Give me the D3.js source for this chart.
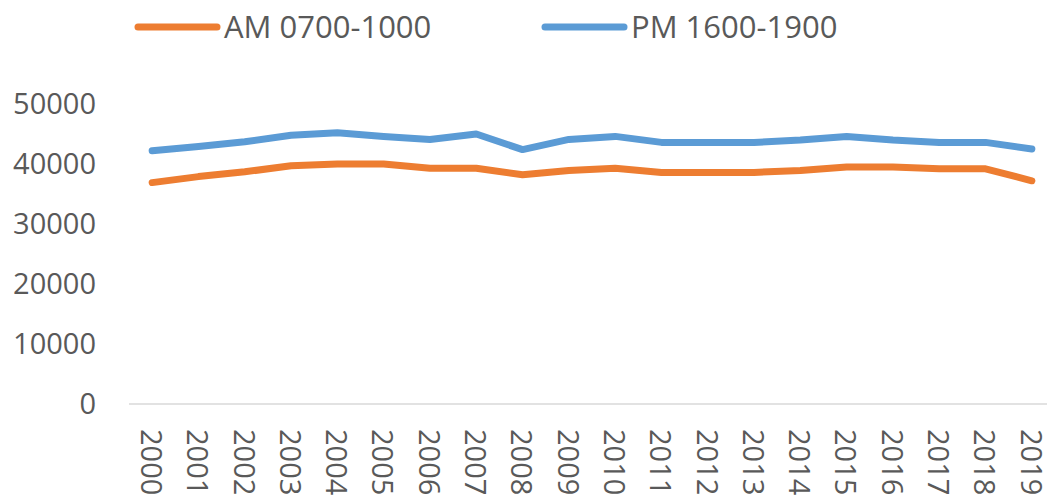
<!DOCTYPE html>
<html>
<head>
<meta charset="utf-8">
<script src="https://cdn.jsdelivr.net/npm/d3@7"></script>
<style>
  body { margin: 0; background: #fff; }
  text { font-family: "Open Sans", "Liberation Sans", Arial, sans-serif; fill: #595959; }
</style>
</head>
<body>
<div class="container"></div>
<script>
var years = ["2000","2001","2002","2003","2004","2005","2006","2007","2008","2009",
             "2010","2011","2012","2013","2014","2015","2016","2017","2018","2019"];
var amValues = [36900, 37900, 38700, 39700, 40000, 40000, 39300, 39300, 38200, 38900,
                39300, 38600, 38600, 38600, 38900, 39500, 39500, 39200, 39200, 37200];
var pmValues = [42200, 42900, 43700, 44800, 45200, 44600, 44100, 45000, 42400, 44100,
                44600, 43600, 43600, 43600, 44000, 44600, 44000, 43600, 43600, 42500];
var seriesNames = ["AM 0700-1000", "PM 1600-1900"];
var yTicks = [0, 10000, 20000, 30000, 40000, 50000];

var width = 1047, height = 495;
var margin = {top: 104, right: -8, bottom: 91, left: 129};

var svg = d3.select("div.container").append("svg")
    .attr("width", width)
    .attr("height", height);

var x = d3.scaleBand()
    .domain(years)
    .range([margin.left, width - margin.right]);

var y = d3.scaleLinear()
    .domain([0, 50000])
    .range([height - margin.bottom, margin.top]);

var colors = ["#ED7D31", "#5B9BD5"];

// y labels
svg.selectAll(".ylab")
    .data(yTicks)
    .enter().append("text")
    .attr("class", "ylab")
    .attr("x", 96)
    .attr("y", function(d) { return y(d); })
    .attr("dy", "0.35em")
    .attr("text-anchor", "end")
    .style("font-size", "29px")
    .text(function(d) { return d; });

// x axis line
svg.append("line")
    .attr("x1", margin.left)
    .attr("x2", width)
    .attr("y1", y(0))
    .attr("y2", y(0))
    .attr("stroke", "#D9D9D9")
    .attr("stroke-width", 1.5);

// x labels, rotated
svg.selectAll(".xlab")
    .data(years)
    .enter().append("text")
    .attr("class", "xlab")
    .attr("transform", function(d) {
        return "translate(" + (x(d) + x.bandwidth() / 2 - 1) + "," + (y(0) + 25) + ") rotate(90)";
    })
    .attr("dy", "0.35em")
    .style("font-size", "29px")
    .text(function(d) { return d; });

var line = d3.line()
    .x(function(d, i) { return x(years[i]) + x.bandwidth() / 2; })
    .y(function(d) { return y(d); });

[amValues, pmValues].forEach(function(vals, k) {
    svg.append("path")
        .datum(vals)
        .attr("fill", "none")
        .attr("stroke", colors[k])
        .attr("stroke-width", 7)
        .attr("stroke-linejoin", "round")
        .attr("stroke-linecap", "round")
        .attr("d", line);
});

// legend
var legX = [138, 545];
seriesNames.forEach(function(name, k) {
    svg.append("line")
        .attr("x1", legX[k]).attr("x2", legX[k] + 79)
        .attr("y1", 27).attr("y2", 27)
        .attr("stroke", colors[k])
        .attr("stroke-width", 7)
        .attr("stroke-linecap", "round");
    svg.append("text")
        .attr("x", legX[k] + 86)
        .attr("y", 27)
        .attr("dy", "0.35em")
        .style("font-size", "31px")
        .text(name);
});
</script>
</body>
</html>
